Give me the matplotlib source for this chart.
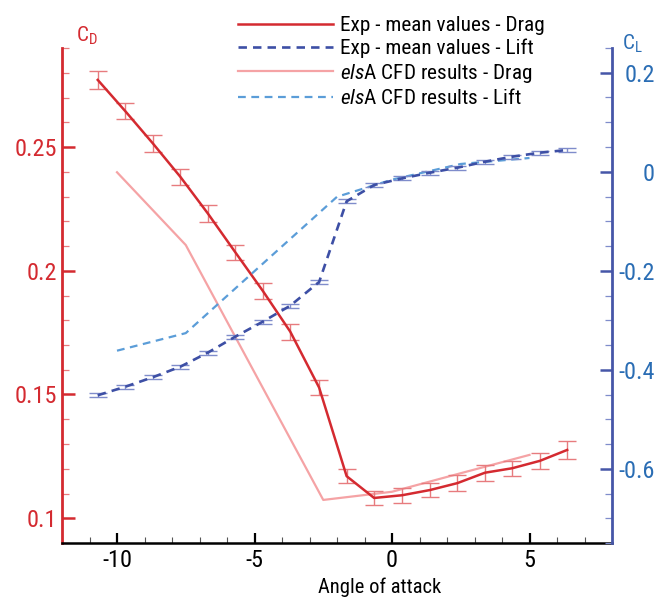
import matplotlib
matplotlib.use("Agg")
import matplotlib.pyplot as plt
from matplotlib import font_manager as fm
from matplotlib.ticker import MultipleLocator, FormatStrFormatter
from matplotlib.lines import Line2D

# ---------------- data ----------------
alpha_exp = [-10.7, -9.7, -8.7, -7.7, -6.7, -5.7, -4.7, -3.7, -2.65, -1.65,
             -0.65, 0.37, 1.38, 2.38, 3.38, 4.37, 5.38, 6.37]
cd_exp = [0.2771, 0.2645, 0.2515, 0.2380, 0.2232, 0.2075, 0.1919, 0.1754, 0.1528,
          0.1170, 0.1082, 0.1093, 0.1114, 0.1142, 0.1184, 0.1202, 0.1232, 0.1276]
cd_err = [0.0037, 0.0033, 0.0034, 0.0032, 0.0034, 0.0030, 0.0032, 0.0032, 0.0032,
          0.0028, 0.0028, 0.0031, 0.0028, 0.0031, 0.0032, 0.0031, 0.0032, 0.0036]
cl_exp = [-0.4516, -0.4343, -0.4152, -0.3939, -0.3655, -0.3332, -0.3029, -0.2706,
          -0.2227, -0.0597, -0.0268, -0.0133, -0.0019, 0.0082, 0.0203, 0.0304,
          0.0385, 0.0439]
cl_err = [0.004] * 18

alpha_cfd_drag = [-10, -7.5, -2.5, 0, 2.5, 5]
cd_cfd = [0.2398, 0.2104, 0.1074, 0.1107, 0.1182, 0.1256]
alpha_cfd_lift = [-10, -7.5, -2, 0, 2.5, 5]
cl_cfd = [-0.3615, -0.326, -0.0506, -0.016, 0.0157, 0.0278]

labels = ["Exp - mean values - Drag", "Exp - mean values - Lift",
          r"$\mathit{els}$A CFD results - Drag", r"$\mathit{els}$A CFD results - Lift"]

# ---------------- font choice (narrow sans if available) ----------------
FONT = None
STRETCH = 'normal'
names = {f.name for f in fm.fontManager.ttflist}
for cand in ['Liberation Sans Narrow', 'Roboto Condensed', 'Open Sans Condensed',
             'Noto Sans Condensed', 'DejaVu Sans Condensed', 'Arial Narrow']:
    if cand in names:
        FONT = cand
        break
if FONT is None:
    for pref in ['Roboto', 'Noto Sans', 'Open Sans', 'DejaVu Sans', 'Liberation Sans']:
        cands = [f for f in fm.fontManager.ttflist
                 if f.name == pref and str(f.stretch) in ('condensed', 'semi-condensed',
                                                          'extra-condensed')]
        if cands:
            FONT = pref
            STRETCH = str(cands[0].stretch)
            break
NARROW = FONT is not None
if FONT is None:
    FONT = 'Liberation Sans'
FS_TICK = 17.5 if NARROW else 15
FS_LEG = 15.3 if NARROW else 13.5
FS_LAB = 14.8 if NARROW else 13

plt.rcParams['font.family'] = [FONT, 'DejaVu Sans']
plt.rcParams['font.stretch'] = STRETCH
plt.rcParams['axes.unicode_minus'] = False
plt.rcParams['mathtext.fontset'] = 'custom'
plt.rcParams['mathtext.it'] = FONT + ':italic'
plt.rcParams['mathtext.rm'] = FONT

RED = '#d42a30'
RED_LIGHT = '#e77b7e'
PINK = '#f5a3a5'
BLUE_DARK = '#3d4fa5'
BLUE_ERR = '#7f8ccb'
BLUE_LIGHT = '#5b9dd8'
BLUE_TXT = '#2a6db4'
SPINE_BLUE = '#4656a8'

fig = plt.figure(figsize=(6.61, 5.98), dpi=100)
ax = fig.add_axes([62/661, 1-543/598, (612-62)/661, (543-48)/598])
ax2 = ax.twinx()

# drag
ax.plot(alpha_cfd_drag, cd_cfd, color=PINK, lw=1.6, zorder=2)
ax.errorbar(alpha_exp, cd_exp, yerr=cd_err, fmt='none', ecolor=RED_LIGHT,
            elinewidth=1.0, capsize=6.5, capthick=1.0, zorder=3)
ax.plot(alpha_exp, cd_exp, color=RED, lw=1.8, zorder=4)

# lift
ax2.plot(alpha_cfd_lift, cl_cfd, color=BLUE_LIGHT, lw=1.6, dashes=(3.5, 2.5), zorder=2)
ax2.errorbar(alpha_exp, cl_exp, yerr=cl_err, fmt='none', ecolor=BLUE_ERR,
             elinewidth=1.0, capsize=6.5, capthick=1.0, zorder=3)
ax2.plot(alpha_exp, cl_exp, color=BLUE_DARK, lw=1.9, dashes=(3.2, 2.3), zorder=4)

# limits
ax.set_xlim(-12, 8)
ax.set_ylim(0.09, 0.29)
ax2.set_ylim(-0.75, 0.25)

# ticks
ax.xaxis.set_major_locator(MultipleLocator(5))
ax.xaxis.set_minor_locator(MultipleLocator(1))
ax.yaxis.set_major_locator(MultipleLocator(0.05))
ax.yaxis.set_minor_locator(MultipleLocator(0.01))
ax2.yaxis.set_major_locator(MultipleLocator(0.2))
ax2.yaxis.set_minor_locator(MultipleLocator(0.05))
ax.xaxis.set_major_formatter(FormatStrFormatter('%g'))
ax.yaxis.set_major_formatter(FormatStrFormatter('%g'))
ax2.yaxis.set_major_formatter(FormatStrFormatter('%g'))

ax.tick_params(axis='x', which='major', direction='in', length=7.5, width=1.6,
               color='black', labelsize=FS_TICK, pad=4, top=False)
ax.tick_params(axis='x', which='minor', direction='in', length=4.5, width=0.8,
               color='#555555', top=False)
ax.tick_params(axis='y', which='major', direction='in', length=9, width=1.8,
               color=RED, labelcolor=RED, labelsize=FS_TICK, pad=3.5)
ax.tick_params(axis='y', which='minor', direction='in', length=5, width=0.9,
               color=RED_LIGHT)
ax2.tick_params(axis='y', which='major', direction='in', length=9, width=1.8,
                color=SPINE_BLUE, labelcolor=BLUE_TXT, labelsize=FS_TICK, pad=31)
ax2.tick_params(axis='y', which='minor', direction='in', length=5, width=0.9,
                color=BLUE_ERR)
for t in ax2.get_yticklabels():
    t.set_horizontalalignment('right')

# spines
for a in (ax, ax2):
    a.spines['top'].set_visible(False)
ax.spines['left'].set_color(RED)
ax.spines['left'].set_linewidth(2.0)
ax.spines['bottom'].set_color('black')
ax.spines['bottom'].set_linewidth(1.8)
ax.spines['right'].set_visible(False)
ax2.spines['left'].set_visible(False)
ax2.spines['bottom'].set_visible(False)
ax2.spines['right'].set_color(SPINE_BLUE)
ax2.spines['right'].set_linewidth(2.0)

# axis labels
fig.text(76/661, 1-42/598, r"C$_\mathregular{D}$", color=RED, fontsize=FS_LEG,
         ha='left', va='baseline')
fig.text(622/661, 1-50/598, r"C$_\mathregular{L}$", color=BLUE_TXT, fontsize=FS_LEG,
         ha='left', va='baseline')
ax.set_xlabel("Angle of attack", fontsize=FS_LAB)
ax.xaxis.label.set_verticalalignment('baseline')
ax.xaxis.set_label_coords((380-62)/550, -(593-543)/495)

# legend
handles = [Line2D([], [], color=RED, lw=1.8),
           Line2D([], [], color=BLUE_DARK, lw=1.9, dashes=(3.2, 2.3)),
           Line2D([], [], color=PINK, lw=1.6),
           Line2D([], [], color=BLUE_LIGHT, lw=1.6, dashes=(3.5, 2.5))]
fig.legend(handles, labels, loc='upper left', bbox_to_anchor=(238/661, 1-16/598),
           frameon=False, fontsize=FS_LEG, handlelength=95/(FS_LEG*100/72),
           handletextpad=0.33, labelspacing=0.165, borderpad=0, borderaxespad=0)

fig.savefig("out.png", dpi=100)
